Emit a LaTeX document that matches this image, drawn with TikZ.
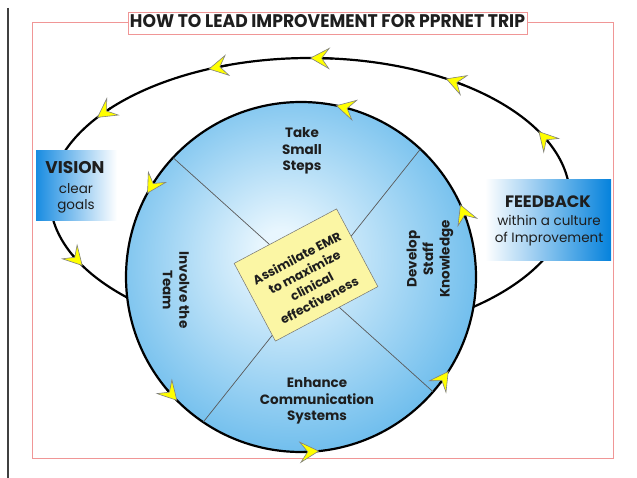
\documentclass[tikz,border=0pt]{standalone}
\usepackage{fontspec}
\setmainfont{Poppins}
\usetikzlibrary{arrows.meta}
\definecolor{framered}{RGB}{240,150,150}
\definecolor{cin}{RGB}{232,246,254}
\definecolor{cout}{RGB}{78,174,232}
\definecolor{visblue}{RGB}{25,140,225}
\definecolor{fbblue}{RGB}{5,130,220}
\definecolor{boxyellow}{RGB}{251,246,164}
\definecolor{arrowyellow}{RGB}{255,255,0}
\definecolor{inktext}{RGB}{30,30,30}
\pgfdeclareradialshading{hubshade}{\pgfpoint{-3bp}{4bp}}{color(0bp)=(cin); color(3bp)=(cin); color(34bp)=(cout); color(50bp)=(cout)}
\tikzset{
  titlebox/.style={draw=framered, line width=0.8pt, fill=white, minimum width=399pt, minimum height=22pt, inner sep=0pt},
  visbox/.style={rectangle, minimum width=81pt, minimum height=70pt, inner sep=0pt, left color=visblue, right color=white},
  fbbox/.style={rectangle, minimum width=126pt, minimum height=81pt, inner sep=0pt, left color=white, right color=fbblue},
  bigword/.style={anchor=base, inner sep=0pt, text=inktext, font=\bfseries\fontsize{16.5}{18}\selectfont},
  smallword/.style={anchor=base, inner sep=0pt, text=inktext, font=\fontsize{13.5}{16}\selectfont},
  hub/.style={circle, minimum size=350pt, inner sep=0pt, draw=black, line width=2.2pt, shade, shading=hubshade},
  divider/.style={draw=black!65, line width=0.7pt, shorten >=1.5pt, shorten <=1.5pt},
  corebox/.style={rectangle, minimum width=116pt, minimum height=88pt, inner sep=0pt, fill=boxyellow, draw=black!55, line width=0.5pt},
  circtext/.style={align=center, inner sep=0pt, text=inktext, font=\bfseries\fontsize{13.5}{16.5}\selectfont},
  coretext/.style={align=center, inner sep=0pt, text=inktext, font=\bfseries\fontsize{12.5}{16}\selectfont},
  flowtip/.style={draw=black, line width=2pt, -{Stealth[length=20pt, width=22pt, inset=8pt, color=black!50, fill=arrowyellow, line width=0.6pt]}}
}
\begin{document}
\begin{tikzpicture}[x=1pt, y=-1pt]
\useasboundingbox (0,0) rectangle (637,478);
% page edge and frame
\draw[line width=1.3pt, black!75] (8,8) -- (8,478);
\draw[framered, line width=0.8pt] (32,22) rectangle (613,458);
\node[titlebox] (titlebox) at (327.5,23) {};
\node[inner sep=0pt, text=inktext] (title) at (327.5,21.5) {\resizebox{395pt}{13pt}{\bfseries HOW TO LEAD IMPROVEMENT FOR PPRNET TRIP}};
% outer loop
\draw[line width=2.2pt] (310,198) ellipse [x radius=260, y radius=140];
% side boxes
\node[visbox] (vision) at (76.5,186) {};
\node[bigword, font=\bfseries\fontsize{17}{18}\selectfont] (vtitle) at (75,174) {VISION};
\node[smallword] (vclear) at (76,194) {clear};
\node[smallword] (vgoals) at (76,210) {goals};
\node[fbbox] (feedback) at (548,220.5) {};
\node[bigword] (ftitle) at (548,208) {FEEDBACK};
\node[smallword] (fline1) at (549,226) {within a culture};
\node[smallword] (fline2) at (549,243) {of Improvement};
% central circle
\node[hub] (hub) at (301,277) {};
\draw[divider] (hub.137) -- (hub.-41);
\draw[divider] (hub.47) -- (hub.236);
\node[corebox, rotate=28] (core) at (306,275) {};
\node[coretext, rotate=28] (coretxt) at (308,279) {Assimilate EMR\\to maximize\\clinical\\effectiveness};
\node[circtext] (steps) at (302,151) {Take\\Small\\Steps};
\node[circtext] (comm) at (317,401) {Enhance\\Communication\\Systems};
\node[circtext, rotate=-90] (team) at (176,290) {Involve the\\Team};
\node[circtext, rotate=90] (staff) at (430,259) {Develop\\Staff\\Knowledge};
% arrowheads on outer loop
\foreach \t in {145,113,90,58.5,28.5,209} {
  \pgfmathsetmacro\ta{-\t+5}
  \pgfmathsetmacro\tb{-\t}
  \draw[flowtip] ([shift={(310,198)}]\ta:260 and 140) -- ([shift={(310,198)}]\tb:260 and 140);
}
% arrowheads on circle
\foreach \t in {78.5,151.5,225,276,327.5,24.5} {
  \pgfmathsetmacro\ta{-\t+5}
  \pgfmathsetmacro\tb{-\t}
  \draw[flowtip] ([shift={(301,277)}]\ta:175) -- ([shift={(301,277)}]\tb:175);
}
\end{tikzpicture}
\end{document}
